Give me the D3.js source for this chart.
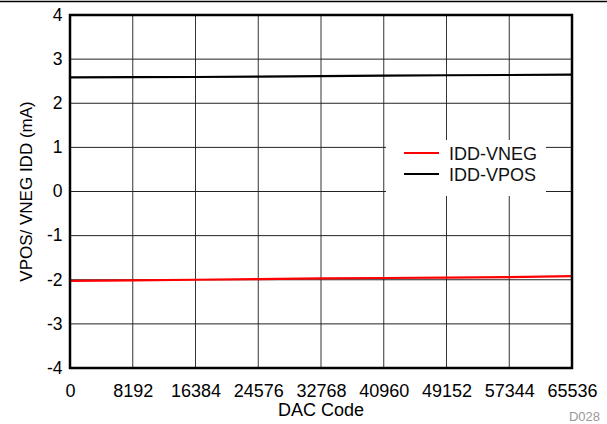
<!DOCTYPE html>
<html><head><meta charset="utf-8">
<script src="https://cdn.jsdelivr.net/npm/d3@7"></script>
<style>body{margin:0;background:#fff;} svg{display:block;font-family:"Liberation Sans",Arial,sans-serif;}</style>
</head><body>
<svg id="c" width="607" height="424"></svg>
<script>
const dacCodes = [0, 8192, 16384, 24576, 32768, 40960, 49152, 57344, 65536];
const iddVneg = [-2.025, -2.015, -2.0, -1.985, -1.97, -1.96, -1.95, -1.94, -1.92];
const iddVpos = [2.585, 2.59, 2.595, 2.605, 2.615, 2.625, 2.635, 2.64, 2.648];
const xTicks = [0, 8192, 16384, 24576, 32768, 40960, 49152, 57344, 65536];
const yTicks = [-4, -3, -2, -1, 0, 1, 2, 3, 4];
const seriesNames = ["IDD-VNEG", "IDD-VPOS"];
const seriesColors = ["#ff0000", "#000000"];

const FONT = "Liberation Sans, Arial, sans-serif";
const svg = d3.select("#c");
const L = 70, R = 572, T = 15, B = 368;
const x = d3.scaleLinear().domain([0, 65536]).range([L, R]);
const y = d3.scaleLinear().domain([-4, 4]).range([B, T]);

// top rule
svg.append("line").attr("x1", 0).attr("x2", 607).attr("y1", 1.5).attr("y2", 1.5)
  .attr("stroke", "#000").attr("stroke-width", 1.5);

// gridlines
svg.append("g").selectAll("line").data(xTicks.slice(1, -1)).join("line")
  .attr("x1", d => x(d)).attr("x2", d => x(d)).attr("y1", T).attr("y2", B)
  .attr("stroke", "#333").attr("stroke-width", 1);
svg.append("g").selectAll("line").data(yTicks.slice(1, -1)).join("line")
  .attr("x1", L).attr("x2", R).attr("y1", d => y(d)).attr("y2", d => y(d))
  .attr("stroke", "#222").attr("stroke-width", 1);

// axes labels via d3 axes
const xAxis = d3.axisBottom(x).tickValues(xTicks).tickSize(0).tickPadding(0).tickFormat(d => String(d));
const gx = svg.append("g").attr("transform", `translate(0,${B})`).call(xAxis);
gx.select(".domain").remove();
gx.attr("font-size", null).attr("font-family", null);
gx.selectAll("text").attr("y", 28.5).attr("dy", null).attr("font-size", 18).attr("fill", "#000").attr("font-family", FONT);

const yAxis = d3.axisLeft(y).tickValues(yTicks).tickSize(0).tickPadding(7.5).tickFormat(d => String(d));
const gy = svg.append("g").attr("transform", `translate(${L},0)`).call(yAxis);
gy.select(".domain").remove();
gy.attr("font-size", null).attr("font-family", null);
gy.selectAll("text").attr("dy", "0.3em").attr("font-size", 17.5).attr("fill", "#000").attr("font-family", FONT);

// legend background
svg.append("rect").attr("x", 386).attr("y", 140).attr("width", 160).attr("height", 56).attr("fill", "#fff");

// lines
const line = d3.line().x((d, i) => x(dacCodes[i])).y(d => y(d));
[iddVneg, iddVpos].forEach((s, k) => {
  svg.append("path").datum(s).attr("d", line).attr("fill", "none")
    .attr("stroke", seriesColors[k]).attr("stroke-width", 2.2);
});

// frame
svg.append("rect").attr("x", L).attr("y", T).attr("width", R - L).attr("height", B - T)
  .attr("fill", "none").attr("stroke", "#000").attr("stroke-width", 2.5);

// legend
const lg = svg.append("g");
seriesNames.forEach((n, k) => {
  const yy = 153 + k * 21;
  lg.append("line").attr("x1", 404).attr("x2", 439).attr("y1", yy).attr("y2", yy)
    .attr("stroke", seriesColors[k]).attr("stroke-width", 2.2);
  lg.append("text").attr("x", 449).attr("y", yy + 6.5).attr("font-size", 18).attr("fill", "#111").text(n);
});

// axis titles
svg.append("text").attr("x", (L + R) / 2).attr("y", 416).attr("text-anchor", "middle")
  .attr("font-size", 18).attr("fill", "#000").text("DAC Code");
svg.append("text").attr("transform", `translate(32,${(T + B) / 2}) rotate(-90)`).attr("text-anchor", "middle")
  .attr("font-size", 17).attr("fill", "#000").text("VPOS/ VNEG IDD (mA)");
svg.append("text").attr("x", 600).attr("y", 421).attr("text-anchor", "end")
  .attr("font-size", 13).attr("fill", "#999").text("D028");
</script>
</body></html>
